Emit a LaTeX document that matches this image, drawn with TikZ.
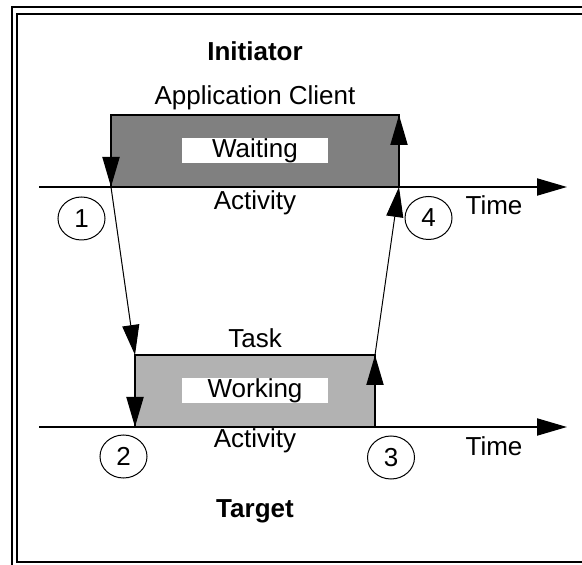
\documentclass[tikz,border=0pt]{standalone}
\usepackage{fontspec}
\setmainfont{Liberation Sans}
\usetikzlibrary{arrows.meta,positioning,calc,shapes.geometric}

\begin{document}
\begin{tikzpicture}[x=0.5pt,y=-0.5pt]
\tikzset{every node/.style={font=\fontsize{13}{15}\selectfont, inner sep=0pt, outer sep=0pt}}
\tikzset{lbl/.style={anchor=base}}
\tikzset{activity/.style={draw, line width=1pt, minimum height=36pt}}
\tikzset{whitebox/.style={fill=white, minimum width=73pt, minimum height=12.5pt}}
\tikzset{num/.style={draw, ellipse, line width=0.5pt, minimum width=23.5pt, minimum height=21.5pt}}
\tikzset{arr/.style={-{Triangle[length=15pt,width=8.5pt]}}}
\useasboundingbox (0,0) rectangle (582,565);
\clip (0,0) rectangle (582,565);
% double frame, cut at the right and bottom
\draw[line width=1pt] (11.7,7.3) rectangle (600,575);
\draw[line width=1pt] (17.3,14) rectangle (595,562);

% time axes
\coordinate (t1start) at (39,187);
\coordinate (t1end) at (567,187);
\coordinate (t2start) at (39,427);
\coordinate (t2end) at (567,427);

\node[activity, fill=black!50, minimum width=144pt] (client) at (255,151) {};
\node[activity, fill=black!30, minimum width=120pt] (task) at (255,391) {};
\node[whitebox] (waitbox) at (client.center) {};
\node[whitebox] (workbox) at (task.center) {};
\node[lbl] (waiting) at ($(waitbox.south)+(0,-6)$) {Waiting};
\node[lbl] (working) at ($(workbox.south)+(0,-6)$) {Working};

\draw[line width=1pt, arr] (t1start) -- (t1end);
\draw[line width=1pt, arr] (t2start) -- (t2end);

\node[lbl] (appl) at ($(client.north)+(0,-10)$) {Application Client};
\node[lbl, font=\fontsize{13}{15}\selectfont\bfseries] (init) at ($(appl.base)+(0,-44)$) {Initiator};
\node[lbl] (act1) at ($(client.south)+(0,23)$) {Activity};
\node[lbl] (time1) at ($(t1end)+(-73,28)$) {Time};
\node[lbl] (tasklbl) at ($(task.north)+(0,-7)$) {Task};
\node[lbl] (act2) at ($(task.south)+(0,20)$) {Activity};
\node[lbl] (time2) at ($(t2end)+(-73,28)$) {Time};
\node[lbl, font=\fontsize{13}{15}\selectfont\bfseries] (target) at ($(task.south)+(0,90)$) {Target};

\node[num] (n1) at (81.5,218.5) {1};
\node[num] (n4) at (428.5,218) {4};
\node[num] (n2) at (123.5,456.5) {2};
\node[num] (n3) at (391,457.5) {3};

% request down, response up
\draw[arr, line width=1pt] (client.north west) -- (client.south west);
\draw[arr, line width=0.5pt] (client.south west) -- (task.north west);
\draw[arr, line width=1pt] (task.north west) -- (task.south west);
\draw[arr, line width=1pt] (task.south east) -- (task.north east);
\draw[arr, line width=0.5pt] (task.north east) -- (client.south east);
\draw[arr, line width=1pt] (client.south east) -- (client.north east);
\end{tikzpicture}
\end{document}
